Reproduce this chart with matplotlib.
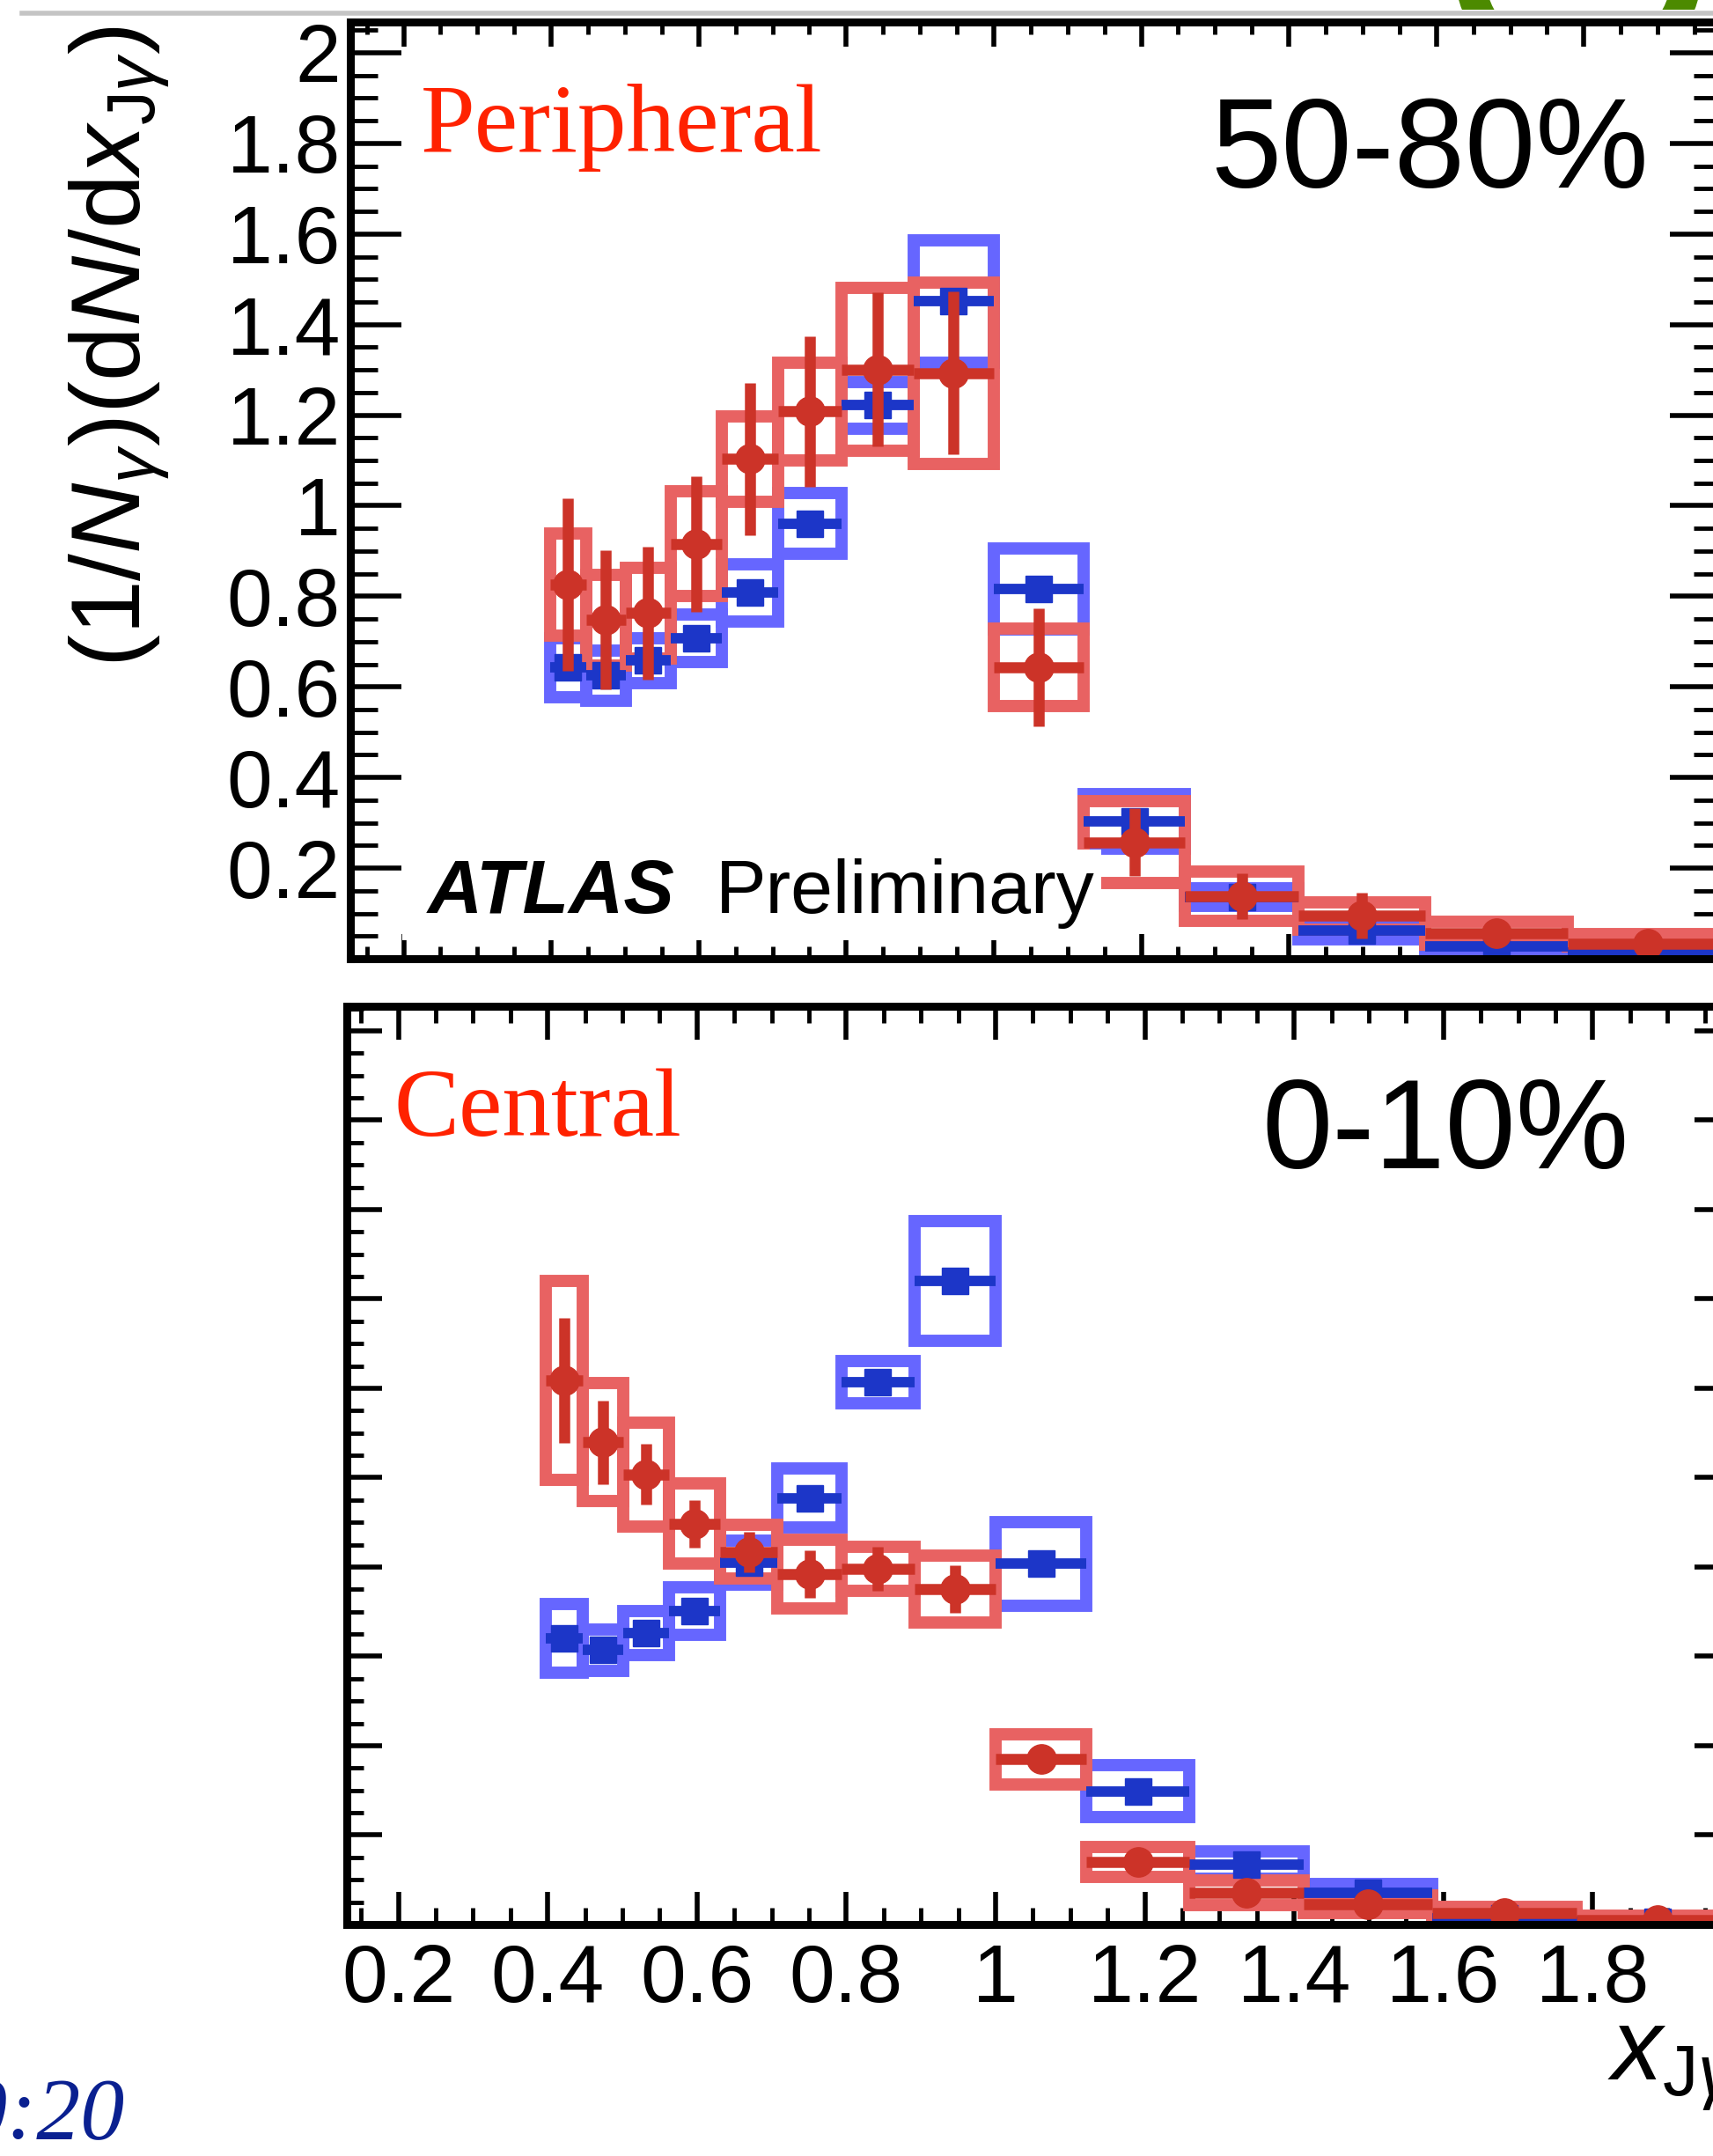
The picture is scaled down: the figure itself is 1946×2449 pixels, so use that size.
import numpy as np
import matplotlib
matplotlib.use("Agg")
from matplotlib import pyplot as plt
from matplotlib.ticker import MultipleLocator
from matplotlib.patches import Rectangle, Ellipse
from matplotlib.lines import Line2D

plt.rcParams['font.family'] = ['Liberation Sans', 'DejaVu Sans']
plt.rcParams['mathtext.fontset'] = 'custom'
plt.rcParams['mathtext.rm'] = 'Liberation Sans'
plt.rcParams['mathtext.it'] = 'Liberation Sans:italic'
plt.rcParams['mathtext.bf'] = 'Liberation Sans:bold'

# x_Jgamma bin edges
edges = np.array([0.398, 0.447, 0.501, 0.562, 0.631, 0.708, 0.794, 0.891,
                  1.0, 1.122, 1.259, 1.413, 1.585, 1.778, 1.995])

# Peripheral 50-80%  (blue = reference, red = Pb+Pb)
per_blue = np.array([0.643, 0.625, 0.658, 0.707, 0.808, 0.961, 1.222, 1.451, 0.816, 0.303, 0.136, 0.063, 0.027, 0.014])
per_blue_stat = np.array([0.02, 0.02, 0.02, 0.02, 0.02, 0.02, 0.02, 0.02, 0.02, 0.015, 0.01, 0.01, 0.008, 0.005])
per_blue_sys = np.array([0.065, 0.056, 0.05, 0.052, 0.063, 0.067, 0.052, 0.135, 0.09, 0.06, 0.02, 0.02, 0.012, 0.008])
per_red = np.array([0.826, 0.748, 0.763, 0.916, 1.103, 1.208, 1.301, 1.293, 0.643, 0.257, 0.138, 0.095, 0.056, 0.034])
per_red_stat = np.array([0.19, 0.153, 0.146, 0.15, 0.168, 0.166, 0.17, 0.18, 0.13, 0.075, 0.05, 0.05, 0.03, 0.02])
per_red_sys = np.array([0.113, 0.1, 0.1, 0.116, 0.095, 0.108, 0.18, 0.2, 0.086, 0.09, 0.055, 0.03, 0.025, 0.02])

# Central 0-10%
cen_blue = np.array([0.641, 0.614, 0.652, 0.701, 0.81, 0.954, 1.214, 1.441, 0.807, 0.298, 0.133, 0.07, 0.013, 0.006])
cen_blue_stat = np.array([0.02, 0.02, 0.02, 0.02, 0.02, 0.02, 0.02, 0.02, 0.02, 0.015, 0.01, 0.01, 0.005, 0.004])
cen_blue_sys = np.array([0.077, 0.047, 0.05, 0.053, 0.05, 0.066, 0.047, 0.134, 0.094, 0.058, 0.03, 0.02, 0.01, 0.006])
cen_red = np.array([1.218, 1.079, 1.007, 0.897, 0.834, 0.784, 0.796, 0.751, 0.37, 0.14, 0.071, 0.046, 0.025, 0.01])
cen_red_stat = np.array([0.14, 0.093, 0.068, 0.053, 0.045, 0.053, 0.05, 0.053, 0.025, 0.02, 0.015, 0.015, 0.01, 0.008])
cen_red_sys = np.array([0.223, 0.132, 0.117, 0.09, 0.06, 0.077, 0.05, 0.075, 0.056, 0.033, 0.028, 0.02, 0.015, 0.01])

yticks = [0.2, 0.4, 0.6, 0.8, 1.0, 1.2, 1.4, 1.6, 1.8, 2.0]
ytick_labels = ['0.2', '0.4', '0.6', '0.8', '1', '1.2', '1.4', '1.6', '1.8', '2']
xticks = [0.2, 0.4, 0.6, 0.8, 1.0, 1.2, 1.4, 1.6, 1.8]
xtick_labels = ['0.2', '0.4', '0.6', '0.8', '1', '1.2', '1.4', '1.6', '1.8']

BLUE = '#1c36c8'
BLUE_BOX = '#6666ff'
RED = '#cc3328'
RED_BOX = '#e86262'

W, H = 1946, 2449


def fx(px):
    return px / W


def fy(py):
    return 1 - py / H


centers = 0.5 * (edges[:-1] + edges[1:])
widths = edges[1:] - edges[:-1]


def draw_panel(ax, bv, bstat, bsys, rv, rstat, rsys):
    ax.bar(centers, 2 * bsys, bottom=bv - bsys, width=widths, fill=False,
           edgecolor=BLUE_BOX, linewidth=10, zorder=2, joinstyle='miter')
    ax.bar(centers, 2 * rsys, bottom=rv - rsys, width=widths, fill=False,
           edgecolor=RED_BOX, linewidth=10, zorder=3, joinstyle='miter')
    ax.errorbar(centers, bv, xerr=widths / 2, yerr=bstat, fmt='s', ms=22,
                color=BLUE, elinewidth=8.5, capsize=0, zorder=4)
    ax.errorbar(centers, rv, xerr=widths / 2, yerr=rstat, fmt='o', ms=24,
                color=RED, elinewidth=9, capsize=0, zorder=5)


def style_axes(ax, xmaj, xmin, ymaj, ymin):
    for s in ax.spines.values():
        s.set_linewidth(6.5)
        s.set_zorder(10)
    ax.xaxis.set_minor_locator(MultipleLocator(0.05))
    ax.yaxis.set_minor_locator(MultipleLocator(0.05))
    ax.tick_params(which='both', direction='in', top=True, right=True)
    ax.tick_params(axis='x', which='major', length=xmaj, width=4)
    ax.tick_params(axis='x', which='minor', length=xmin, width=3.5)
    ax.tick_params(axis='y', which='major', length=ymaj, width=4)
    ax.tick_params(axis='y', which='minor', length=ymin, width=3.5)


fig = plt.figure(figsize=(W / 100, H / 100), dpi=100)
fig.patch.set_facecolor('white')

# top panel: peripheral
ax1 = fig.add_axes([fx(398), fy(1089), (1955 - 398) / W, (1089 - 25) / H])
ax1.set_xlim(0.1277, 1.9857)
ax1.set_ylim(0, 2.068)
draw_panel(ax1, per_blue, per_blue_stat, per_blue_sys, per_red, per_red_stat, per_red_sys)
style_axes(ax1, 20, 10, 42, 22)
ax1.set_xticks(xticks)
ax1.set_xticklabels([])
ax1.set_yticks(yticks)
ax1.set_yticklabels(ytick_labels, fontsize=67)
ax1.tick_params(axis='y', pad=8)

# white box behind the ATLAS label
ax1.add_patch(Rectangle((0.038, 0.0197), 0.51, 0.0968, transform=ax1.transAxes,
                        facecolor='white', edgecolor='none', zorder=6))

# bottom panel: central
ax2 = fig.add_axes([fx(394), fy(2186), (1965 - 394) / W, (2186 - 1143) / H])
ax2.set_xlim(0.131, 1.9835)
ax2.set_ylim(0, 2.055)
draw_panel(ax2, cen_blue, cen_blue_stat, cen_blue_sys, cen_red, cen_red_stat, cen_red_sys)
style_axes(ax2, 27, 14, 29, 14)
ax2.set_xticks(xticks)
ax2.set_xticklabels(xtick_labels, fontsize=67)
ax2.set_yticks(yticks)
ax2.set_yticklabels([])
ax2.tick_params(axis='x', pad=15)

# texts
fig.text(fx(478), fy(172), 'Peripheral', family='Liberation Serif', fontsize=80,
         color='#ff2200', va='baseline', ha='left')
fig.text(fx(1873), fy(213), '50-80%', fontsize=104, va='baseline', ha='right')
fig.text(fx(486), fy(1037), 'ATLAS', fontsize=62, fontweight='bold', fontstyle='italic',
         va='baseline', ha='left', zorder=12)
fig.text(fx(813), fy(1037), 'Preliminary', fontsize=62, va='baseline', ha='left', zorder=12)
fig.text(fx(448), fy(1290), 'Central', family='Liberation Serif', fontsize=80,
         color='#ff2200', va='baseline', ha='left')
fig.text(fx(1851), fy(1327), '0-10%', fontsize=104, va='baseline', ha='right')

fig.text(fx(136), fy(394), r'$(1/N_{\gamma})(\mathrm{d}N/\mathrm{d}x_{\mathrm{J}\gamma})$',
         rotation=90, fontsize=80, ha='center', va='center')
fig.text(fx(1826), fy(2363), r'$x_{\mathrm{J}\gamma}$', fontsize=83, ha='left', va='baseline')

fig.text(fx(142), fy(2428), '10:20', family='Liberation Serif', fontstyle='italic',
         fontsize=72, color='#0a2090', ha='right', va='baseline')

# slide decorations at the top
fig.add_artist(Line2D([fx(25), 1.0], [fy(14.5), fy(14.5)], transform=fig.transFigure,
                      color='#c4c4c4', linewidth=4))
ring = Ellipse((fx(1793), fy(-40)), 250 / W, 250 / H, transform=fig.transFigure,
               fill=False, edgecolor='#4c8a00', linewidth=24)
fig.add_artist(ring)
ring.set_clip_path(Rectangle((0, fy(11)), 1, 11 / H, transform=fig.transFigure))

fig.savefig('out.png', dpi=100)
